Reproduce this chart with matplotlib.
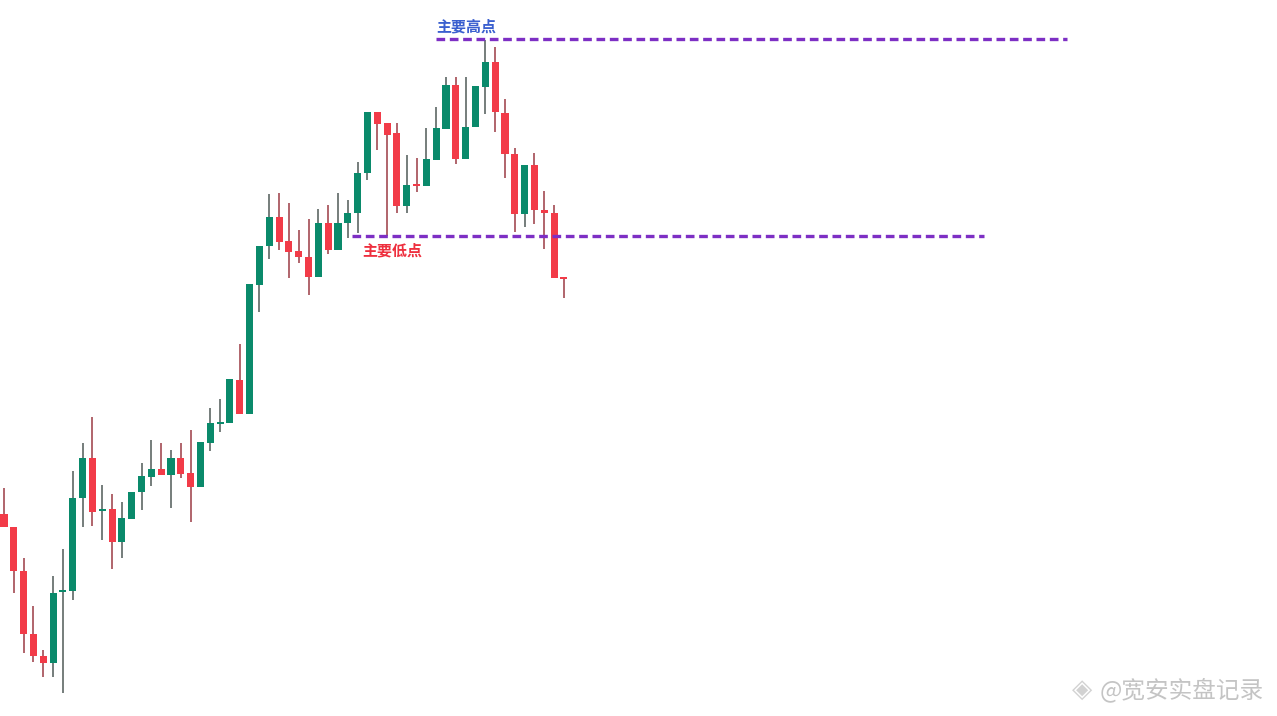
import numpy as np
import matplotlib
matplotlib.use('Agg')
import matplotlib.pyplot as plt

plt.rcParams['font.family'] = ['Noto Sans CJK SC', 'DejaVu Sans']

# K线数据 (价格 = 716 - 像素y, 从图上读取)
highs  = [228, 189, 158, 110, 66, 140, 167, 245, 273, 299, 231, 222, 214, 224, 253, 276, 273, 266, 273, 286,
          274, 308, 317, 337, 372, 432, 470, 522, 523, 513, 486, 497, 507, 511, 523, 516, 554, 604, 604, 593,
          593, 561, 558, 588, 609, 639, 639, 639, 630, 676, 669, 617, 568, 551, 563, 525, 511, 439]
opens  = [202, 189, 145, 82, 60, 53, 124, 125, 218, 258, 205, 207, 174, 197, 224, 239, 247, 241, 258, 243,
          229, 273, 292, 293, 336, 302, 431, 470, 499, 475, 465, 459, 439, 493, 466, 493, 503, 543, 604, 593,
          583, 510, 532, 530, 556, 587, 631, 557, 589, 629, 654, 603, 562, 502, 551, 506, 503, 439]
closes = [189, 145, 82, 60, 53, 123, 125, 218, 258, 204, 207, 174, 198, 224, 240, 247, 241, 258, 242, 229,
          274, 293, 294, 337, 302, 432, 470, 499, 474, 464, 459, 439, 493, 466, 493, 503, 543, 604, 592, 581,
          510, 531, 530, 557, 588, 631, 557, 589, 630, 654, 604, 562, 502, 551, 506, 503, 438, 437]
lows   = [189, 123, 63, 54, 39, 39, 23, 116, 189, 190, 176, 147, 158, 197, 206, 230, 241, 208, 238, 194,
          229, 265, 284, 293, 302, 302, 404, 457, 466, 438, 453, 421, 439, 462, 466, 478, 483, 536, 566, 480,
          503, 503, 524, 530, 556, 587, 552, 557, 589, 602, 584, 538, 484, 489, 492, 467, 438, 418]

levels = [677, 480]                     # 主要高点 / 主要低点
level_from = [44.0, 35.4]
level_to = [108.2, 99.8]
labels = ['主要高点', '主要低点']

green = '#0a8a6b'
red = '#f23b48'

fig = plt.figure(figsize=(12.77, 7.16), dpi=100)
ax = fig.add_axes([0, 0, 1, 1])
ax.set_xlim(-0.41, 129.6)
ax.set_ylim(0, 716)
ax.axis('off')

x = np.arange(len(opens))
for i in x:
    o, c, h, l = opens[i], closes[i], highs[i], lows[i]
    col = green if c >= o else red
    wick = '#4f5a57' if c >= o else '#9b3b44'
    ax.vlines(i, l, h, color=wick, lw=1.1, zorder=1)
    bot = min(o, c)
    hgt = max(abs(c - o), 2.5)
    ax.bar(i, hgt, bottom=bot, width=0.72, color=col, zorder=2)

# 水平虚线
for lv, a, b in zip(levels, level_from, level_to):
    ax.hlines(lv, a, b, colors='#7d2fc4', linestyles=(0, (2.6, 1.4)), lw=2.4, zorder=3)

ax.text(44.0, 682, labels[0], color='#3a5fcf', fontsize=10.8, fontweight='bold', ha='left', va='bottom')
ax.text(36.5, 474, labels[1], color='#ee2f3e', fontsize=10.8, fontweight='bold', ha='left', va='top')

# 水印
fig.text(0.847, 0.036, '◈', color='#d2d2d2', fontsize=19, ha='center', va='center', family='DejaVu Sans')
fig.text(0.861, 0.036, '@宽安实盘记录', color='#c4c4c4', fontsize=17, ha='left', va='center')

fig.savefig('out.png', dpi=100, facecolor='white')
